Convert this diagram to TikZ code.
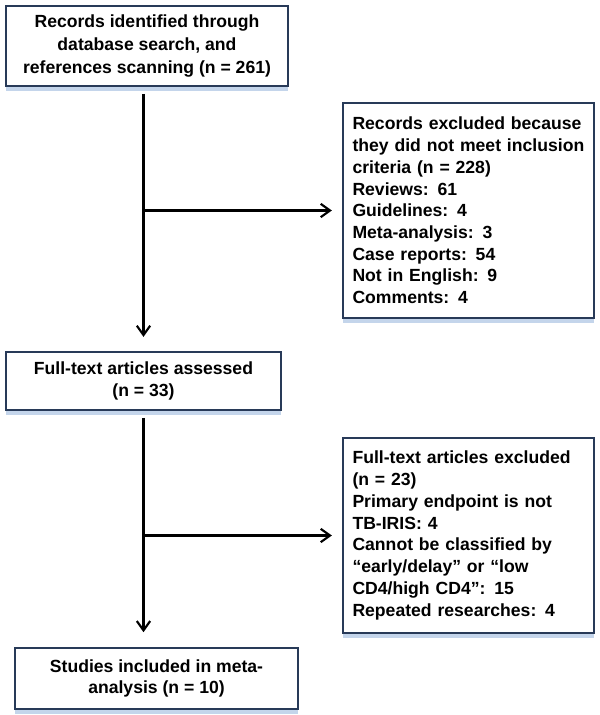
\documentclass[tikz,border=0pt]{standalone}
\usepackage{fontspec}
\setmainfont{Liberation Sans}
\usetikzlibrary{arrows.meta,shadows}

\definecolor{boxline}{RGB}{40,58,88}
\definecolor{boxshade}{RGB}{196,213,235}

\tikzset{
  flowbox/.style={draw=boxline, line width=1.7pt, fill=white, inner sep=0pt,
    font=\bfseries\fontsize{13.2}{16.3}\selectfont,
    drop shadow={shadow xshift=0pt, shadow yshift=-3.5pt, fill=boxshade, opacity=1}},
  flowarrow/.style={line width=1.6pt, -{Straight Barb[length=7pt,width=10pt]}}
}

\begin{document}
\begin{tikzpicture}[x=0.75pt,y=-0.75pt]
\useasboundingbox (0,0) rectangle (600,715);

% ( Left column: the main flow, sizes are given in pt )
\node[flowbox, minimum width=211.5pt, minimum height=60pt, align=center,
  font=\bfseries\fontsize{13.2}{17}\selectfont] (records) at (147,46)
  {Records identified through\\database search, and\\references scanning (n = 261)};
\node[flowbox, minimum width=206.25pt, minimum height=43.5pt, align=center] (assessed) at (143.5,381)
  {Full-text articles assessed\\(n = 33)};
\node[flowbox, minimum width=212.25pt, minimum height=45.75pt, align=center] (included) at (156.5,678.5)
  {Studies included in meta-\\analysis (n = 10)};

% ( Right column: exclusions )
\node[flowbox, minimum width=188.25pt, minimum height=161.25pt, text width=174pt, align=left] (excluded) at (468.5,210.5)
  {Records excluded because\\they did not meet inclusion\\criteria (n = 228)\\Reviews: 61\\Guidelines: 4\\Meta-analysis: 3\\Case reports: 54\\Not in English: 9\\Comments: 4};
\node[flowbox, minimum width=188.25pt, minimum height=146.25pt, text width=174pt, align=left] (fulltextout) at (468.5,535.5)
  {Full-text articles excluded\\(n = 23)\\Primary endpoint is not\\TB-IRIS: 4\\Cannot be classified by\\“early/delay” or “low\\CD4/high CD4”: 15\\Repeated researches: 4};

% branch points on the vertical lines
\coordinate (branch1) at (assessed.north |- excluded.west);
\coordinate (branch2) at (assessed.south |- fulltextout.west);

\draw[flowarrow, shorten <=5pt, shorten >=10.5pt] (records.south -| assessed.north) -- (assessed.north);
\draw[flowarrow, shorten <=5pt, shorten >=11pt] (assessed.south) -- (assessed.south |- included.north);
\draw[flowarrow, shorten >=7.5pt] (branch1) -- (excluded.west);
\draw[flowarrow, shorten >=7.5pt] (branch2) -- (fulltextout.west);
\end{tikzpicture}
\end{document}
